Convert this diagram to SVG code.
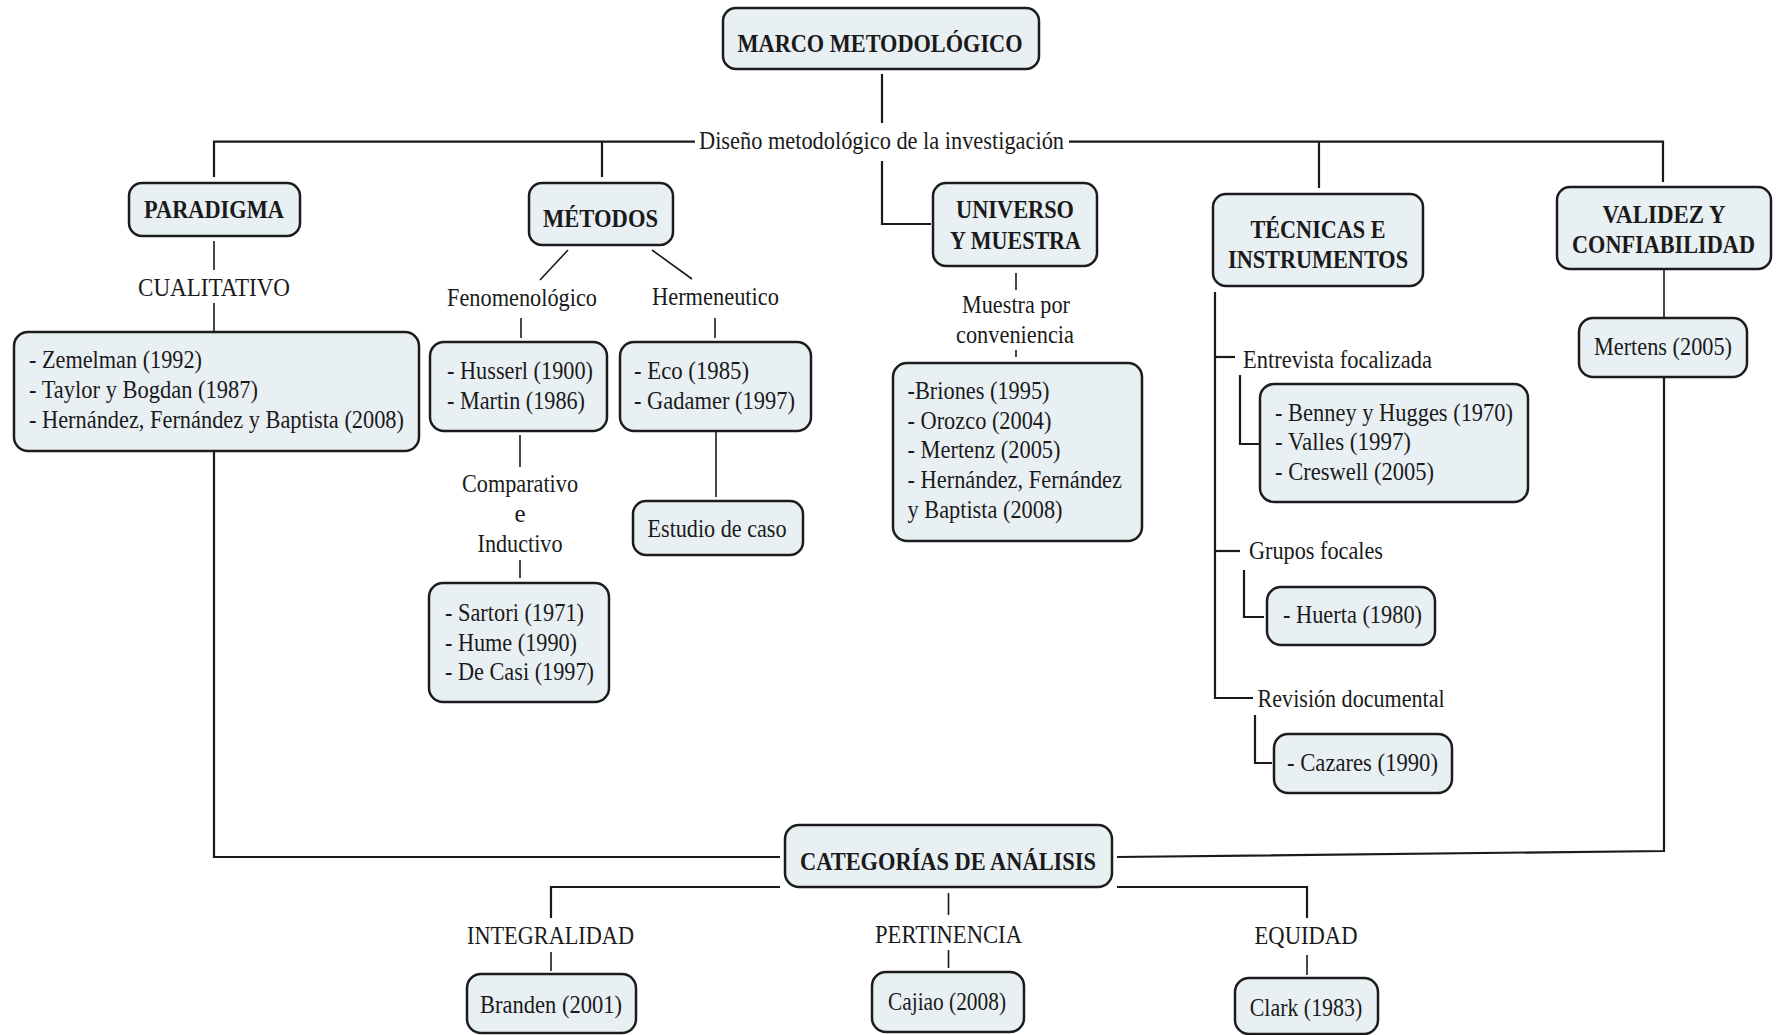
<svg xmlns="http://www.w3.org/2000/svg" width="1777" height="1035" viewBox="0 0 1777 1035">
  <style>
    .box { fill: #e9f0f3; stroke: #1c1c1c; stroke-width: 2.5; }
    .t { font-family: "Liberation Serif", "Times New Roman", serif; font-size: 25px; fill: #1a1a1a; }
    .b { font-family: "Liberation Serif", "Times New Roman", serif; font-size: 26px; font-weight: bold; fill: #1a1a1a; }
    .c { text-anchor: middle; }
    .ln { fill: none; stroke: #1a1a1a; stroke-width: 2.2; }
    .sl { fill: none; stroke: #1a1a1a; stroke-width: 1.6; }
  </style>
  <rect width="1777" height="1035" fill="#ffffff"/>

  <!-- connectors -->
  <g id="connectors">
    <path class="ln" d="M882,74 V123"/>
    <path class="ln" d="M214,177 V141.7 H695"/>
    <path class="ln" d="M1069,141.7 H1663 V182"/>
    <path class="ln" d="M602,141.7 V177"/>
    <path class="ln" d="M1319,141.7 V188"/>
    <path class="ln" d="M882,161 V224 H931"/>
    <path class="sl" d="M214,241 V270"/>
    <path class="sl" d="M214,303 V332"/>
    <path class="sl" d="M568,250 L540,280"/>
    <path class="sl" d="M652,250 L692,279"/>
    <path class="sl" d="M521,318 V338"/>
    <path class="sl" d="M715,318 V338"/>
    <path class="sl" d="M520,435 V467"/>
    <path class="sl" d="M520,560 V578"/>
    <path class="sl" d="M716,431 V497"/>
    <path class="sl" d="M1016,273 V290"/>
    <path class="sl" d="M1016,350 V357"/>
    <path class="ln" d="M1215,292 V698 H1253"/>
    <path class="ln" d="M1215,357 H1235"/>
    <path class="ln" d="M1215,551 H1240"/>
    <path class="ln" d="M1240,375 V444 H1259"/>
    <path class="ln" d="M1244,570 V617 H1264"/>
    <path class="ln" d="M1255,715 V763 H1272"/>
    <path class="sl" d="M1664,269 V318"/>
    <path class="ln" d="M1664,377 V851 L1117,857"/>
    <path class="ln" d="M214,451 V857 H780"/>
    <path class="ln" d="M780,887 H551 V918"/>
    <path class="sl" d="M551,952 V971"/>
    <path class="sl" d="M948.5,893 V915"/>
    <path class="sl" d="M948.5,950 V968"/>
    <path class="ln" d="M1117,887 H1307 V918"/>
    <path class="sl" d="M1307,955 V975"/>
  </g>

  <!-- connector labels -->
  <g id="labels">
    <text class="t c" x="881.5" y="149" textLength="365" lengthAdjust="spacingAndGlyphs">Diseño metodológico de la investigación</text>
    <text class="t c" x="214" y="296" textLength="152" lengthAdjust="spacingAndGlyphs">CUALITATIVO</text>
    <text class="t c" x="522" y="306" textLength="150" lengthAdjust="spacingAndGlyphs">Fenomenológico</text>
    <text class="t c" x="715.5" y="305" textLength="127" lengthAdjust="spacingAndGlyphs">Hermeneutico</text>
    <text class="t c" x="520" y="492" textLength="116" lengthAdjust="spacingAndGlyphs">Comparativo</text>
    <text class="t c" x="520" y="522">e</text>
    <text class="t c" x="520" y="552" textLength="85" lengthAdjust="spacingAndGlyphs">Inductivo</text>
    <text class="t c" x="1016" y="313" textLength="108" lengthAdjust="spacingAndGlyphs">Muestra por</text>
    <text class="t c" x="1015" y="343" textLength="118" lengthAdjust="spacingAndGlyphs">conveniencia</text>
    <text class="t" x="1243" y="368" textLength="189" lengthAdjust="spacingAndGlyphs">Entrevista focalizada</text>
    <text class="t" x="1249" y="559" textLength="134" lengthAdjust="spacingAndGlyphs">Grupos focales</text>
    <text class="t" x="1257.6" y="707" textLength="187" lengthAdjust="spacingAndGlyphs">Revisión documental</text>
    <text class="t c" x="550.5" y="944" textLength="167" lengthAdjust="spacingAndGlyphs">INTEGRALIDAD</text>
    <text class="t c" x="948.5" y="943" textLength="147" lengthAdjust="spacingAndGlyphs">PERTINENCIA</text>
    <text class="t c" x="1306" y="944" textLength="103" lengthAdjust="spacingAndGlyphs">EQUIDAD</text>
  </g>

  <!-- nodes -->
  <g id="marco">
    <rect class="box" x="723" y="8" width="316" height="61" rx="13"/>
    <text class="b c" x="880" y="52" textLength="285" lengthAdjust="spacingAndGlyphs">MARCO METODOLÓGICO</text>
  </g>
  <g id="paradigma">
    <rect class="box" x="129" y="183" width="171" height="53" rx="13"/>
    <text class="b c" x="214" y="218" textLength="140" lengthAdjust="spacingAndGlyphs">PARADIGMA</text>
  </g>
  <g id="metodos">
    <rect class="box" x="529" y="183" width="144" height="62" rx="13"/>
    <text class="b c" x="600.5" y="227" textLength="115" lengthAdjust="spacingAndGlyphs">MÉTODOS</text>
  </g>
  <g id="universo">
    <rect class="box" x="933" y="183" width="164" height="83" rx="13"/>
    <text class="b c" x="1015" y="218" textLength="118" lengthAdjust="spacingAndGlyphs">UNIVERSO</text>
    <text class="b c" x="1015.5" y="249" textLength="131" lengthAdjust="spacingAndGlyphs">Y MUESTRA</text>
  </g>
  <g id="tecnicas">
    <rect class="box" x="1213" y="194" width="210" height="92" rx="13"/>
    <text class="b c" x="1318" y="238" textLength="135" lengthAdjust="spacingAndGlyphs">TÉCNICAS E</text>
    <text class="b c" x="1318" y="268" textLength="180" lengthAdjust="spacingAndGlyphs">INSTRUMENTOS</text>
  </g>
  <g id="validez">
    <rect class="box" x="1557" y="187" width="214" height="82" rx="13"/>
    <text class="b c" x="1664" y="223" textLength="123" lengthAdjust="spacingAndGlyphs">VALIDEZ Y</text>
    <text class="b c" x="1663.5" y="253" textLength="183" lengthAdjust="spacingAndGlyphs">CONFIABILIDAD</text>
  </g>
  <g id="autores-paradigma">
    <rect class="box" x="14" y="332" width="405" height="119" rx="14"/>
    <text class="t" x="29" y="368" textLength="173" lengthAdjust="spacingAndGlyphs">- Zemelman (1992)</text>
    <text class="t" x="29" y="398" textLength="229" lengthAdjust="spacingAndGlyphs">- Taylor y Bogdan (1987)</text>
    <text class="t" x="29" y="428" textLength="375" lengthAdjust="spacingAndGlyphs">- Hernández, Fernández y Baptista (2008)</text>
  </g>
  <g id="autores-fenomenologico">
    <rect class="box" x="430" y="342" width="177" height="89" rx="14"/>
    <text class="t" x="447" y="379" textLength="146" lengthAdjust="spacingAndGlyphs">- Husserl (1900)</text>
    <text class="t" x="447" y="409" textLength="138" lengthAdjust="spacingAndGlyphs">- Martin (1986)</text>
  </g>
  <g id="autores-hermeneutico">
    <rect class="box" x="620" y="342" width="191" height="89" rx="14"/>
    <text class="t" x="634" y="379" textLength="115" lengthAdjust="spacingAndGlyphs">- Eco (1985)</text>
    <text class="t" x="634" y="409" textLength="161" lengthAdjust="spacingAndGlyphs">- Gadamer (1997)</text>
  </g>
  <g id="autores-comparativo">
    <rect class="box" x="429" y="583" width="180" height="119" rx="14"/>
    <text class="t" x="445" y="621" textLength="139" lengthAdjust="spacingAndGlyphs">- Sartori (1971)</text>
    <text class="t" x="445" y="650.5" textLength="132" lengthAdjust="spacingAndGlyphs">- Hume (1990)</text>
    <text class="t" x="445" y="680" textLength="149" lengthAdjust="spacingAndGlyphs">- De Casi (1997)</text>
  </g>
  <g id="estudio-caso">
    <rect class="box" x="633" y="501" width="170" height="54" rx="13"/>
    <text class="t c" x="717" y="537" textLength="139" lengthAdjust="spacingAndGlyphs">Estudio de caso</text>
  </g>
  <g id="autores-muestra">
    <rect class="box" x="893" y="363" width="249" height="178" rx="14"/>
    <text class="t" x="907.5" y="399" textLength="142" lengthAdjust="spacingAndGlyphs">-Briones (1995)</text>
    <text class="t" x="907.5" y="429" textLength="144" lengthAdjust="spacingAndGlyphs">- Orozco (2004)</text>
    <text class="t" x="907.5" y="458" textLength="153" lengthAdjust="spacingAndGlyphs">- Mertenz (2005)</text>
    <text class="t" x="907.5" y="488" textLength="214.5" lengthAdjust="spacingAndGlyphs">- Hernández, Fernández</text>
    <text class="t" x="907.5" y="518" textLength="155" lengthAdjust="spacingAndGlyphs">y Baptista (2008)</text>
  </g>
  <g id="autores-validez">
    <rect class="box" x="1579" y="318" width="168" height="59" rx="14"/>
    <text class="t c" x="1663" y="355" textLength="138" lengthAdjust="spacingAndGlyphs">Mertens (2005)</text>
  </g>
  <g id="autores-entrevista">
    <rect class="box" x="1260" y="384" width="268" height="118" rx="14"/>
    <text class="t" x="1275" y="421" textLength="238" lengthAdjust="spacingAndGlyphs">- Benney y Hugges (1970)</text>
    <text class="t" x="1275" y="450" textLength="136" lengthAdjust="spacingAndGlyphs">- Valles (1997)</text>
    <text class="t" x="1275" y="480" textLength="159" lengthAdjust="spacingAndGlyphs">- Creswell (2005)</text>
  </g>
  <g id="autores-grupos">
    <rect class="box" x="1267" y="587" width="168" height="58" rx="14"/>
    <text class="t" x="1283" y="623" textLength="139" lengthAdjust="spacingAndGlyphs">- Huerta (1980)</text>
  </g>
  <g id="autores-revision">
    <rect class="box" x="1274" y="734" width="178" height="59" rx="14"/>
    <text class="t" x="1287" y="771" textLength="151" lengthAdjust="spacingAndGlyphs">- Cazares (1990)</text>
  </g>
  <g id="categorias">
    <rect class="box" x="785" y="825" width="327" height="62" rx="14"/>
    <text class="b c" x="948" y="870" textLength="296" lengthAdjust="spacingAndGlyphs">CATEGORÍAS DE ANÁLISIS</text>
  </g>
  <g id="integralidad">
    <rect class="box" x="467" y="974" width="169" height="59" rx="14"/>
    <text class="t c" x="551" y="1013" textLength="142" lengthAdjust="spacingAndGlyphs">Branden (2001)</text>
  </g>
  <g id="pertinencia">
    <rect class="box" x="872" y="972" width="152" height="60" rx="14"/>
    <text class="t c" x="947" y="1010" textLength="118" lengthAdjust="spacingAndGlyphs">Cajiao (2008)</text>
  </g>
  <g id="equidad">
    <rect class="box" x="1235" y="978" width="143" height="56" rx="14"/>
    <text class="t c" x="1306" y="1016" textLength="112.5" lengthAdjust="spacingAndGlyphs">Clark (1983)</text>
  </g>
</svg>
